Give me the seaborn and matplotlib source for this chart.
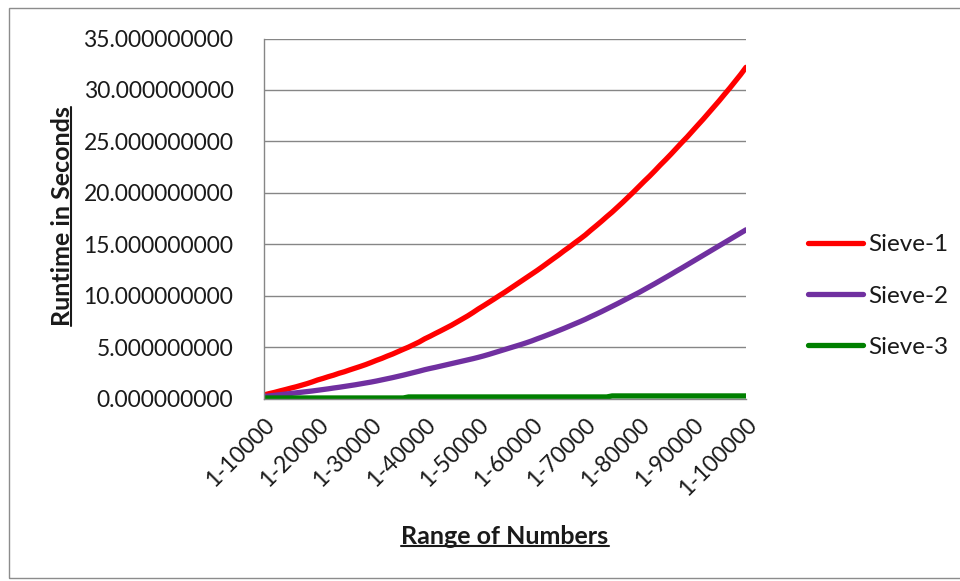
import pandas as pd
import seaborn as sns
import matplotlib.pyplot as plt
from matplotlib.lines import Line2D
from matplotlib.patches import Rectangle

# Categories: ranges 1-10000 .. 1-100000 in steps of 1000
ranges = ["1-%d" % n for n in range(10000, 100001, 1000)]

sieve1 = [0.35, 0.48, 0.60, 0.74, 0.87, 1.01, 1.14, 1.29, 1.44, 1.61, 1.80,
          1.95, 2.12, 2.27, 2.45, 2.60, 2.78, 2.95, 3.12, 3.30, 3.50,
          3.71, 3.90, 4.12, 4.32, 4.55, 4.78, 5.00, 5.25, 5.50, 5.80,
          6.05, 6.32, 6.58, 6.85, 7.12, 7.42, 7.72, 8.02, 8.35, 8.70,
          9.02, 9.35, 9.68, 10.02, 10.35, 10.70, 11.05, 11.40, 11.75, 12.10,
          12.45, 12.82, 13.20, 13.58, 13.95, 14.35, 14.72, 15.12, 15.50, 15.90,
          16.35, 16.78, 17.22, 17.68, 18.12, 18.60, 19.08, 19.58, 20.08, 20.60,
          21.12, 21.62, 22.15, 22.70, 23.22, 23.76, 24.32, 24.88, 25.42, 26.00,
          26.58, 27.15, 27.75, 28.35, 28.95, 29.58, 30.20, 30.85, 31.50, 32.20]

sieve2 = [0.20, 0.25, 0.31, 0.37, 0.43, 0.49, 0.55, 0.61, 0.67, 0.73, 0.80,
          0.87, 0.94, 1.02, 1.09, 1.17, 1.25, 1.33, 1.42, 1.51, 1.60,
          1.70, 1.81, 1.92, 2.03, 2.15, 2.27, 2.40, 2.53, 2.66, 2.80,
          2.92, 3.03, 3.15, 3.27, 3.39, 3.51, 3.63, 3.75, 3.87, 4.00,
          4.14, 4.29, 4.45, 4.61, 4.77, 4.93, 5.09, 5.25, 5.42, 5.60,
          5.80, 5.99, 6.19, 6.39, 6.60, 6.81, 7.03, 7.25, 7.47, 7.70,
          7.95, 8.19, 8.44, 8.70, 8.96, 9.22, 9.49, 9.76, 10.03, 10.30,
          10.59, 10.88, 11.17, 11.47, 11.77, 12.07, 12.38, 12.68, 12.99, 13.30,
          13.61, 13.92, 14.23, 14.54, 14.85, 15.16, 15.47, 15.78, 16.09, 16.40]

sieve3 = [0.05, 0.05, 0.05, 0.05, 0.05, 0.05, 0.05, 0.05, 0.05, 0.05, 0.05,
          0.05, 0.05, 0.05, 0.05, 0.05, 0.05, 0.05, 0.05, 0.05, 0.05,
          0.05, 0.05, 0.05, 0.05, 0.05, 0.05, 0.15, 0.15, 0.15, 0.15,
          0.15, 0.15, 0.15, 0.15, 0.15, 0.15, 0.15, 0.15, 0.15, 0.15,
          0.15, 0.15, 0.15, 0.15, 0.15, 0.15, 0.15, 0.15, 0.15, 0.15,
          0.15, 0.15, 0.15, 0.15, 0.15, 0.15, 0.15, 0.15, 0.15, 0.15,
          0.15, 0.15, 0.15, 0.15, 0.25, 0.25, 0.25, 0.25, 0.25, 0.25,
          0.25, 0.25, 0.25, 0.25, 0.25, 0.25, 0.25, 0.25, 0.25, 0.25,
          0.25, 0.25, 0.25, 0.25, 0.25, 0.25, 0.25, 0.25, 0.25, 0.25]

series_names = ["Sieve-1", "Sieve-2", "Sieve-3"]
colors = {"Sieve-1": "#FF0000", "Sieve-2": "#7030A0", "Sieve-3": "#008000"}
yticks = [0, 5, 10, 15, 20, 25, 30, 35]

df = pd.DataFrame({
    "range": ranges * 3,
    "runtime": sieve1 + sieve2 + sieve3,
    "sieve": [s for s in series_names for _ in ranges],
})

sns.set_style("white")
plt.rcParams["font.family"] = ["Lato", "DejaVu Sans"]
plt.rcParams["text.color"] = "#1a1a1a"

fig = plt.figure(figsize=(9.6, 5.81), dpi=100)
ax = fig.add_axes([264 / 960, 1 - 398.5 / 581, (746 - 264) / 960, (398.5 - 38.5) / 581])

sns.lineplot(data=df, x="range", y="runtime", hue="sieve", palette=colors,
             linewidth=3.8, sort=False, ax=ax, legend=False,
             solid_capstyle="round")

ax.set_xlim(0, len(ranges) - 1)
ax.set_ylim(0, 35)
ax.set_yticks(yticks)
ax.set_yticklabels(["%.9f" % v for v in yticks], fontsize=16.5, color="#1a1a1a")
ax.set_xticks(range(len(ranges)))
ax.set_xticklabels([r if i % 10 == 0 else "" for i, r in enumerate(ranges)],
                   rotation=45, ha="right", rotation_mode="anchor",
                   fontsize=16.5, color="#1a1a1a")
ax.tick_params(axis="x", length=7, width=1, color="#a6a6a6", direction="out", pad=4)
ax.tick_params(axis="y", length=10, width=1, color="#868686", direction="out", pad=12)
ax.grid(axis="y", color="#868686", linewidth=1)
ax.set_axisbelow(True)
ax.set_xlabel("")
ax.set_ylabel("")
for side in ["top", "right"]:
    ax.spines[side].set_visible(False)
for side in ["left", "bottom"]:
    ax.spines[side].set_color("#868686")
    ax.spines[side].set_linewidth(1)

# Legend
handles = [Line2D([0], [0], color=colors[s], linewidth=3.8, solid_capstyle="round")
           for s in series_names]
fig.legend(handles, series_names, loc="center left",
           bbox_to_anchor=(786 / 960, 1 - 296 / 581), frameon=False,
           fontsize=17.5, handlelength=2.25, handletextpad=0.25, labelspacing=1.25)

# Axis titles (bold, underlined)
ylab = fig.text(62 / 960, 1 - 216.5 / 581, "Runtime in Seconds", rotation=90,
                ha="center", va="center", fontsize=18, fontweight="bold")
xlab = fig.text(505 / 960, 1 - 537 / 581, "Range of Numbers",
                ha="center", va="center", fontsize=18, fontweight="bold")

fig.canvas.draw()
r = fig.canvas.get_renderer()
W, H = fig.bbox.width, fig.bbox.height
bb = ylab.get_window_extent(r)
xu = (bb.x1 - 3) / W
fig.add_artist(Line2D([xu, xu], [bb.y0 / H, bb.y1 / H], color="#1a1a1a", linewidth=1.5))
bb = xlab.get_window_extent(r)
yu = (bb.y0 + 3) / H
fig.add_artist(Line2D([bb.x0 / W, bb.x1 / W], [yu, yu], color="#1a1a1a", linewidth=1.5))

# Chart area border
fig.add_artist(Rectangle((9 / 960, 3 / 581), 1.0, 1 - 11 / 581, transform=fig.transFigure,
                         fill=False, edgecolor="#8c8c8c", linewidth=1))

fig.savefig("out.png", dpi=100)
